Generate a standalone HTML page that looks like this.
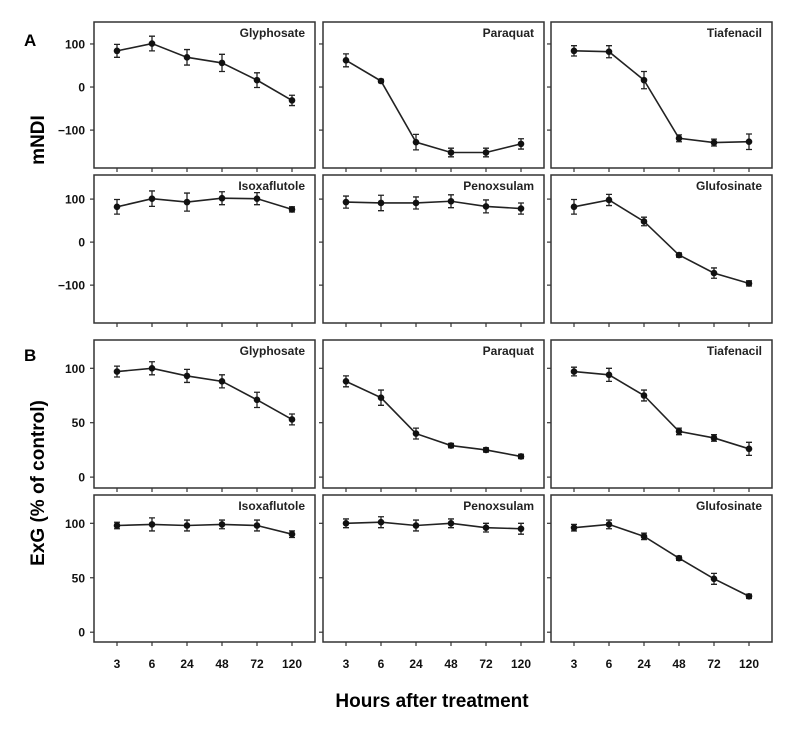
<!DOCTYPE html>
<html><head><meta charset="utf-8"><style>
body{margin:0;background:#fff;width:786px;height:724px;overflow:hidden}
svg{font-family:"Liberation Sans",Arial,sans-serif}
</style></head><body>
<svg id="fig" width="786" height="724" viewBox="0 0 786 724" xmlns="http://www.w3.org/2000/svg">
<text x="24" y="46" font-size="17" font-weight="bold">A</text>
<text x="24" y="361" font-size="17" font-weight="bold">B</text>
<text transform="translate(44,140) rotate(-90)" text-anchor="middle" font-size="19" font-weight="bold">mNDI</text>
<text transform="translate(44,483) rotate(-90)" text-anchor="middle" font-size="19" font-weight="bold">ExG (% of control)</text>
<text x="432" y="707" text-anchor="middle" font-size="19" font-weight="bold">Hours after treatment</text>
</svg>
<script>
const hours = ["3","6","24","48","72","120"];
const herbicidesTop = ["Glyphosate","Paraquat","Tiafenacil"];
const herbicidesBottom = ["Isoxaflutole","Penoxsulam","Glufosinate"];
const mndiGlyphosate = [84,101,69,56,16,-31];
const mndiGlyphosateErr = [15,17,18,20,17,12];
const mndiParaquat = [62,14,-128,-152,-152,-132];
const mndiParaquatErr = [15,4,18,10,10,12];
const mndiTiafenacil = [84,82,16,-119,-129,-127];
const mndiTiafenacilErr = [12,14,20,8,8,18];
const mndiIsoxaflutole = [82,101,93,102,101,76];
const mndiIsoxaflutoleErr = [17,18,21,15,14,6];
const mndiPenoxsulam = [93,91,91,95,83,78];
const mndiPenoxsulamErr = [14,18,14,15,15,13];
const mndiGlufosinate = [82,98,48,-30,-72,-96];
const mndiGlufosinateErr = [17,13,10,5,12,6];
const exgGlyphosate = [97,100,93,88,71,53];
const exgGlyphosateErr = [5,6,6,6,7,5];
const exgParaquat = [88,73,40,29,25,19];
const exgParaquatErr = [5,7,5,2,2,2];
const exgTiafenacil = [97,94,75,42,36,26];
const exgTiafenacilErr = [4,6,5,3,3,6];
const exgIsoxaflutole = [98,99,98,99,98,90];
const exgIsoxaflutoleErr = [3,6,5,4,5,3];
const exgPenoxsulam = [100,101,98,100,96,95];
const exgPenoxsulamErr = [4,5,5,4,4,5];
const exgGlufosinate = [96,99,88,68,49,33];
const exgGlufosinateErr = [3,4,3,2,5,2];
const mndiTicks = [100,0,-100];
const exgTicks = [100,50,0];

const svg = document.getElementById('fig');
const NS = 'http://www.w3.org/2000/svg';
function mk(tag, attrs){const e=document.createElementNS(NS,tag);for(const k in attrs)e.setAttribute(k,attrs[k]);svg.appendChild(e);return e;}
const colLeft=[94,323,551], W=221;
const rows=[
 {top:22,bot:168,dom:[151,-188],ticks:mndiTicks,names:herbicidesTop,data:[[mndiGlyphosate,mndiGlyphosateErr],[mndiParaquat,mndiParaquatErr],[mndiTiafenacil,mndiTiafenacilErr]],key:'mndi'},
 {top:175,bot:323,dom:[156,-188],ticks:mndiTicks,names:herbicidesBottom,data:[[mndiIsoxaflutole,mndiIsoxaflutoleErr],[mndiPenoxsulam,mndiPenoxsulamErr],[mndiGlufosinate,mndiGlufosinateErr]],key:'mndi'},
 {top:340,bot:488,dom:[126,-10],ticks:exgTicks,names:herbicidesTop,data:[[exgGlyphosate,exgGlyphosateErr],[exgParaquat,exgParaquatErr],[exgTiafenacil,exgTiafenacilErr]],key:'exg'},
 {top:495,bot:642,dom:[126,-9],ticks:exgTicks,names:herbicidesBottom,data:[[exgIsoxaflutole,exgIsoxaflutoleErr],[exgPenoxsulam,exgPenoxsulamErr],[exgGlufosinate,exgGlufosinateErr]],key:'exg'}
];
rows.forEach((r,ri)=>{
 const y=v=>r.top+(r.dom[0]-v)/(r.dom[0]-r.dom[1])*(r.bot-r.top);
 colLeft.forEach((L,ci)=>{
  const x=i=>L+23+i*35;
  const nm=r.key+'-'+r.names[ci].toLowerCase();
  const box=mk('rect',{x:L,y:r.top,width:W,height:r.bot-r.top,fill:'none',stroke:'#333','stroke-width':1.5});
  
  
  r.ticks.forEach(t=>{
   const tk=mk('line',{x1:L-4,x2:L,y1:y(t),y2:y(t),stroke:'#333','stroke-width':1.2});
   
   
   if(ci===0){
    const tl=mk('text',{x:L-9,y:y(t)+4.5,'text-anchor':'end','font-size':12,'font-weight':'bold',fill:'#111'});
    tl.textContent=(t<0?'\u2212'+(-t):t);
    
    
   }
  });
  hours.forEach((h,i)=>{
   const tk=mk('line',{x1:x(i),x2:x(i),y1:r.bot,y2:r.bot+4,stroke:'#333','stroke-width':1.2});
   
   
   if(ri===3){
    const tl=mk('text',{x:x(i),y:668,'text-anchor':'middle','font-size':12,'font-weight':'bold',fill:'#111'});
    tl.textContent=h;
    
    
   }
  });
  const vals=r.data[ci][0], errs=r.data[ci][1];
  const ln=mk('polyline',{points:vals.map((v,i)=>x(i)+','+y(v)).join(' '),fill:'none',stroke:'#222','stroke-width':1.6});
  
  
  vals.forEach((v,i)=>{
   const e1=y(v+errs[i]), e2=y(v-errs[i]);
   const eb=mk('path',{d:`M${x(i)},${e1}V${e2}M${x(i)-3},${e1}H${x(i)+3}M${x(i)-3},${e2}H${x(i)+3}`,stroke:'#222','stroke-width':1.3,fill:'none'});
   
   
   const pt=mk('circle',{cx:x(i),cy:y(v),r:3.3,fill:'#111'});
   
   
  });
  const lab=mk('text',{x:L+W-10,y:r.top+15,'text-anchor':'end','font-size':12,'font-weight':'bold',fill:'#222'});
  lab.textContent=r.names[ci];
  
  
 });
});
</script>
</body></html>
